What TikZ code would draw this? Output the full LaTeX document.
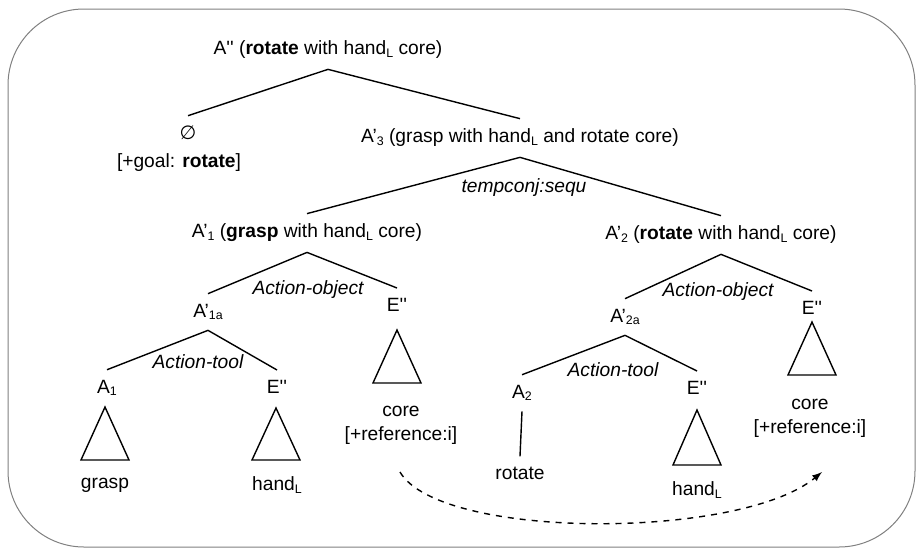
\documentclass[tikz,border=0pt]{standalone}
\usepackage{fontspec}
\setmainfont{Liberation Sans}
\newfontfamily\symfont{DejaVu Sans}
\usepackage{tikz}

\newcommand{\lowsub}[1]{\raisebox{-0.25ex}{\fontsize{6.2}{7}\selectfont #1}}
\newcommand{\handL}{hand\lowsub{L}}
\newcommand{\dprime}{\textquotesingle\textquotesingle}

\begin{document}
\begin{tikzpicture}[x=0.5pt, y=-0.5pt, font=\fontsize{9.6}{12}\selectfont, cat/.style={inner sep=5pt}, word/.style={inner sep=5pt, align=center}, rel/.style={font=\fontsize{9.6}{12}\selectfont\itshape}, br/.style={line width=0.7pt}, d/.style={-latex, line width=0.7pt, dashed}]
            \useasboundingbox (0,0) rectangle (917,548);
            \draw[gray, line width=0.5pt, rounded corners=38pt] (8,9) rectangle (915,547);
            % nodes
            \node[cat] (top) at (328,50) {A\dprime{} (\textbf{rotate} with \handL{} core)};
            \node[cat] (phi) at (188,133) {\symfont ∅};
            \node (goal) at (179,163) {[+goal: \textbf{rotate}]};
            \node[cat] (a3) at (520,138) {A’\lowsub{3} (grasp with \handL{} and rotate core)};
            \node[rel] (seq) at (524,188) {tempconj:sequ};
            \node[cat] (a1) at (307,233) {A’\lowsub{1} (\textbf{grasp} with \handL{} core)};
            \node[cat] (a2) at (721,235) {A’\lowsub{2} (\textbf{rotate} with \handL{} core)};
            \node[rel] (ao1) at (308,290) {Action-object};
            \node[rel] (ao2) at (718,292) {Action-object};
            \node[cat] (a1a) at (208,312) {A’\lowsub{1a}};
            \node[cat] (e1) at (397,305) {E\dprime};
            \node[cat] (a2a) at (625,317) {A’\lowsub{2a}};
            \node[cat] (e3) at (812,308) {E\dprime};
            \node[rel] (at1) at (198,362) {Action-tool};
            \node[rel] (at2) at (613,370) {Action-tool};
            \node[cat] (a1b) at (107,388) {A\lowsub{1}};
            \node[cat] (e2) at (277,387) {E\dprime};
            \node[cat] (a2b) at (522,393) {A\lowsub{2}};
            \node[cat] (e4) at (697,388) {E\dprime};
            \node[word] (core1) at (401,425) {core\\{}[+reference:i]};
            \node[word] (core2) at (810,418) {core\\{}[+reference:i]};
            \node[word] (grasp) at (105,485) {grasp};
            \node[word] (hand1) at (277,485) {\handL};
            \node[word] (rot) at (520,473) {rotate};
            \node[word] (hand2) at (697,490) {\handL};
            \coordinate (from) at (400,472);
            \coordinate (to) at (822,472);
            % edges
            \draw[br] (top.south) -- (phi.north);
            \draw[br] (top.south) -- (a3.north);
            \draw[br] (a3.south) -- (a1.north);
            \draw[br] (a3.south) -- (a2.north);
            \draw[br] (a1.south) -- (a1a.north);
            \draw[br] (a1.south) -- (e1.north);
            \draw[br] (a2.south) -- (a2a.north);
            \draw[br] (a2.south) -- (e3.north);
            \draw[br] (a1a.south) -- (a1b.north);
            \draw[br] (a1a.south) -- (e2.north);
            \draw[br] (a2a.south) -- (a2b.north);
            \draw[br] (a2a.south) -- (e4.north);
            \draw[br] (a2b.south) -- (rot.north);
            % roofs
            \draw[br] (397,330) -- ++(-24,53) -- ++(48,0) -- cycle;
            \draw[br] (812,322) -- ++(-24,53) -- ++(48,0) -- cycle;
            \draw[br] (105,407) -- ++(-24,53) -- ++(48,0) -- cycle;
            \draw[br] (276,408) -- ++(-24,52) -- ++(48,0) -- cycle;
            \draw[br] (697,410) -- ++(-24,55) -- ++(48,0) -- cycle;
            % coreference
            \draw[d] (from) .. controls (440,540) and (740,540) .. (to);
        \end{tikzpicture}
\end{document}
